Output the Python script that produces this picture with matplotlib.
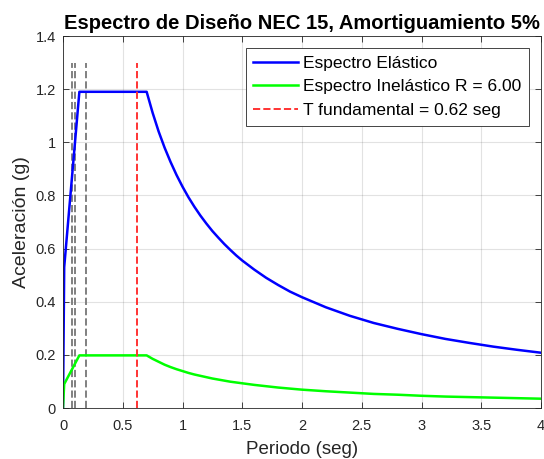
import numpy as np
import matplotlib
matplotlib.use("Agg")
import matplotlib.pyplot as plt

plt.rcParams['font.family'] = ['Liberation Sans', 'DejaVu Sans']

# valores
T_espectro = [0.0, 0.01, 0.137, 0.70, 0.75, 0.80, 0.85, 0.90, 0.95, 1.00, 1.05, 1.10, 1.15,
              1.20, 1.25, 1.30, 1.35, 1.40, 1.45, 1.50, 1.6, 1.7, 1.8, 1.9, 2.0, 2.2, 2.4,
              2.6, 2.8, 3.0, 3.2, 3.4, 3.6, 3.8, 4.0]
Sa_elastico = [0.0, 0.53, 1.19, 1.19, 1.111, 1.041, 0.980, 0.926, 0.877, 0.833, 0.793, 0.757,
               0.724, 0.694, 0.666, 0.641, 0.617, 0.595, 0.574, 0.555, 0.521, 0.490, 0.463,
               0.438, 0.417, 0.379, 0.347, 0.320, 0.298, 0.278, 0.260, 0.245, 0.231, 0.219, 0.208]
Sa_inelastico = [0.0, 0.09, 0.198, 0.198, 0.185, 0.174, 0.163, 0.154, 0.146, 0.139, 0.132,
                 0.126, 0.121, 0.116, 0.111, 0.107, 0.103, 0.099, 0.096, 0.093, 0.087, 0.082,
                 0.077, 0.073, 0.069, 0.063, 0.058, 0.053, 0.050, 0.046, 0.043, 0.041, 0.039,
                 0.037, 0.035]
T_limites = [0.073, 0.104, 0.196]
T_fund = 0.62
R = 6.00
altura_lineas = 1.3

fig = plt.figure(figsize=(5.44, 4.59), dpi=100)
ax = fig.add_axes([63/544, 1 - 408/459, 478/544, 372/459])

ax.grid(True, color='#262626', alpha=0.13, linewidth=0.8)
ax.set_axisbelow(True)

for t in T_limites:
    ax.plot([t, t], [0, altura_lineas], '--', color=(0.5, 0.5, 0.5), linewidth=1.4)
ax.plot(T_espectro, Sa_elastico, '-', color=(0, 0, 1), linewidth=1.8, label='Espectro Elástico')
ax.plot(T_espectro, Sa_inelastico, '-', color=(0, 1, 0), linewidth=1.8,
        label='Espectro Inelástico R = %.2f' % R)
ax.plot([T_fund, T_fund], [0, altura_lineas], '--', color=(1, 0.2, 0.2), linewidth=1.4,
        label='T fundamental = %.2f seg' % T_fund)

ax.set_xlim(0, 4)
ax.set_ylim(0, 1.4)
ax.set_xticks(np.arange(0, 4.01, 0.5))
ax.set_xticklabels(['0', '0.5', '1', '1.5', '2', '2.5', '3', '3.5', '4'])
ax.set_yticks(np.arange(0, 1.41, 0.2))
ax.set_yticklabels(['0', '0.2', '0.4', '0.6', '0.8', '1', '1.2', '1.4'])
ax.tick_params(direction='in', length=4, width=0.6, colors='#262626', labelsize=10.5,
               top=True, right=True)
ax.tick_params(axis='x', pad=8)
ax.tick_params(axis='y', pad=5)
for s in ax.spines.values():
    s.set_color('#262626')
    s.set_linewidth(0.6)

ax.set_xlabel('Periodo (seg)', fontsize=13.5, color='#262626', labelpad=5.5)
ax.set_ylabel('Aceleración (g)', fontsize=14, color='#262626', labelpad=4)
ax.set_title('Espectro de Diseño NEC 15, Amortiguamiento 5%', fontsize=14.5,
             fontweight='bold', color='black', pad=5)

leg = ax.legend(loc='upper right', fontsize=12.5, fancybox=False, framealpha=1,
                edgecolor='#262626', borderaxespad=0.7, handlelength=2.6,
                labelspacing=0.5, borderpad=0.42, handletextpad=0.3)
leg.get_frame().set_linewidth(0.6)

fig.savefig('out.png', dpi=100)
